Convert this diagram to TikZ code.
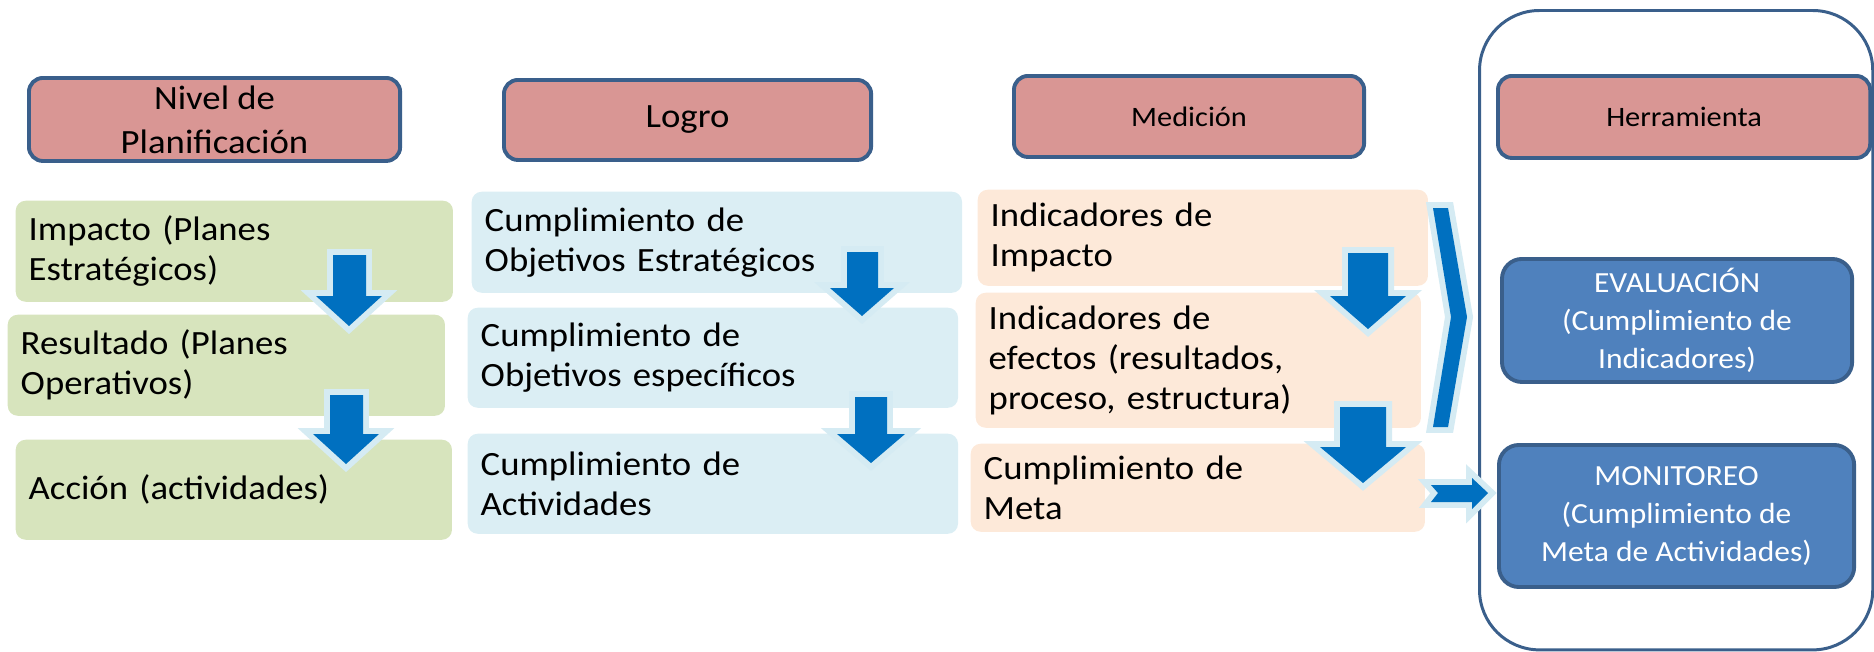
\documentclass[tikz,border=0pt]{standalone}
\usepackage{fontspec}
\setmainfont{Carlito}[FakeStretch=1.08]
\usepackage{tikz}

\definecolor{hdrpink}{HTML}{D99694}
\definecolor{hdrline}{HTML}{3A5F8B}
\definecolor{lvlgreen}{HTML}{D7E4BD}
\definecolor{logroblue}{HTML}{DBEEF4}
\definecolor{medpeach}{HTML}{FDE9D9}
\definecolor{toolblue}{HTML}{4F81BD}
\definecolor{arrowblue}{HTML}{0070C0}
\definecolor{glowblue}{HTML}{D5EBF3}

\tikzset{
  hdr/.style={draw=hdrline, fill=hdrpink, line width=1.1pt, rounded corners=0.14cm,
    anchor=north west, align=center, inner sep=0pt},
  lvl/.style={rounded corners=0.1cm, anchor=north west, align=left,
    inner xsep=0.13cm, inner ysep=0pt, font={\fontsize{9.67}{11.4}\selectfont}},
  tool/.style={draw=hdrline, fill=toolblue, line width=1.1pt, rounded corners=0.2cm,
    anchor=north west, align=center, inner sep=0pt, text=white,
    font={\fontsize{8.3}{10.8}\selectfont}},
  blk/.style={fill=arrowblue, preaction={draw=glowblue, line width=3.4pt}},
}

\begin{document}
\begin{tikzpicture}[x=0.01cm, y=-0.01cm]
\useasboundingbox (0,0) rectangle (1874,651);

% frame of the last column
\node[draw=hdrline, line width=0.85pt, rounded corners=0.6cm, anchor=north west,
  minimum width=3.93cm, minimum height=6.39cm, inner sep=0pt] (frame) at (1478,9) {};

% headers
\node[hdr, minimum width=3.71cm, minimum height=0.83cm,
  font={\fontsize{9.67}{12.5}\selectfont}] (nivel) at (27,76) {Nivel de\\Planificación};
\node[hdr, minimum width=3.67cm, minimum height=0.80cm,
  font={\fontsize{9.67}{11.4}\selectfont}] (logro) at (502,78) {Logro};
\node[hdr, minimum width=3.50cm, minimum height=0.81cm,
  font={\fontsize{8}{9.6}\selectfont}] (medicion) at (1012,74) {Medición};
\node[hdr, minimum width=3.72cm, minimum height=0.82cm,
  font={\fontsize{8}{9.6}\selectfont}] (herram) at (1496,74) {Herramienta};

% planning levels
\node[lvl, fill=lvlgreen, text width=4.11cm, minimum height=1.01cm] (impacto) at (15,200) {Impacto (Planes\\Estratégicos)};
\node[lvl, fill=lvlgreen, text width=4.11cm, minimum height=1.01cm] (resultado) at (7,314) {Resultado (Planes\\Operativos)};
\node[lvl, fill=lvlgreen, text width=4.10cm, minimum height=1.00cm] (accion) at (15,439) {Acción (actividades)};

% achievements
\node[lvl, fill=logroblue, text width=4.64cm, minimum height=1.01cm] (objest) at (471,191) {Cumplimiento de\\Objetivos Estratégicos};
\node[lvl, fill=logroblue, text width=4.64cm, minimum height=1.00cm] (objesp) at (467,307) {Cumplimiento de\\Objetivos específicos};
\node[lvl, fill=logroblue, text width=4.64cm, minimum height=1.00cm] (activ) at (467,433) {Cumplimiento de\\Actividades};

% measurement
\node[lvl, fill=medpeach, text width=4.24cm, minimum height=0.96cm] (indimp) at (977,189) {Indicadores de\\Impacto};
\node[lvl, fill=medpeach, text width=4.19cm, minimum height=1.35cm] (indefe) at (975,292) {Indicadores de\\efectos (resultados,\\proceso, estructura)};
\node[lvl, fill=medpeach, text width=4.28cm, minimum height=0.88cm] (meta) at (970,443) {Cumplimiento de\\Meta};

% tools
\node[tool, minimum width=3.50cm, minimum height=1.23cm] (evaluacion) at (1500,257) {EVALUACIÓN\\(Cumplimiento de\\Indicadores)};
\node[tool, minimum width=3.55cm, minimum height=1.42cm] (monitoreo) at (1497,443) {MONITOREO\\(Cumplimiento de\\Meta de Actividades)};

% block arrows
\path[blk] (333,255) -- (366,255) -- (366,296) -- (382,296) -- (349,326) -- (316,296) -- (333,296) -- cycle;
\path[blk] (330,395) -- (363,395) -- (363,434) -- (379,434) -- (346,464) -- (313,434) -- (330,434) -- cycle;
\path[blk] (847,252) -- (878,252) -- (878,288) -- (894,288) -- (862,316) -- (830,288) -- (847,288) -- cycle;
\path[blk] (855,397) -- (887,397) -- (887,434) -- (905,434) -- (871,463) -- (837,434) -- (855,434) -- cycle;
\path[blk] (1348,253) -- (1388,253) -- (1388,296) -- (1406,296) -- (1368,329) -- (1330,296) -- (1348,296) -- cycle;
\path[blk] (1340,407) -- (1386,407) -- (1386,447) -- (1406,447) -- (1363,483) -- (1320,447) -- (1340,447) -- cycle;
\path[blk] (1433,208) -- (1448,208) -- (1467,317) -- (1448,427) -- (1433,427) -- (1451,317) -- cycle;
\path[blk] (1431,485) -- (1472,485) -- (1472,478) -- (1488,493) -- (1472,509) -- (1472,502) -- (1431,502) -- (1438,493) -- cycle;
\end{tikzpicture}
\end{document}
